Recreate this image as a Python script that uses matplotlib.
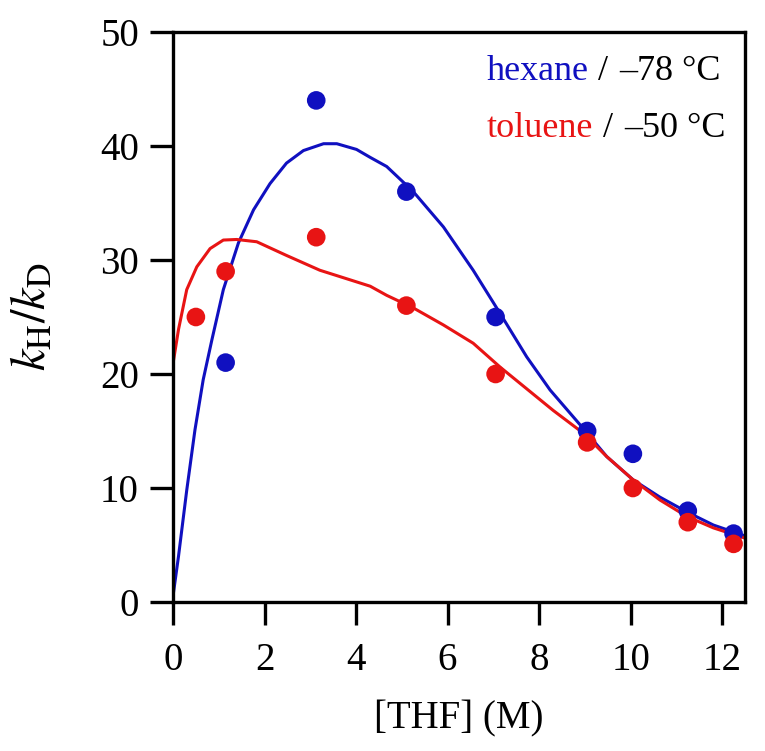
import numpy as np
import matplotlib
matplotlib.use("Agg")
import matplotlib.pyplot as plt

# measured points
hex_x = [1.15, 3.13, 5.1, 7.05, 9.05, 10.05, 11.25, 12.25]
hex_y = [21.0, 44.0, 36.0, 25.0, 15.0, 13.0, 8.0, 6.0]
tol_x = [0.5, 1.15, 3.13, 5.1, 7.05, 9.05, 10.05, 11.25, 12.25]
tol_y = [25.0, 29.0, 32.0, 26.0, 20.0, 14.0, 10.0, 7.0, 5.1]

# fitted curves
hex_fit_x = [0.0, 0.01, 0.12, 0.30, 0.48, 0.66, 0.85, 1.10, 1.43, 1.76, 2.12, 2.48,
             2.85, 3.29, 3.58, 4.01, 4.31, 4.67, 5.25, 5.91, 6.56, 7.15, 7.73, 8.24,
             8.97, 9.48, 10.06, 10.64, 11.23, 11.81, 12.5]
hex_fit_y = [0.0, 0.8, 4.0, 9.8, 15.1, 19.5, 23.0, 27.4, 31.5, 34.4, 36.7, 38.5,
             39.6, 40.2, 40.2, 39.7, 39.0, 38.2, 36.0, 32.9, 29.1, 25.3, 21.5, 18.6,
             15.2, 12.75, 10.7, 9.2, 7.9, 6.75, 5.8]
tol_fit_x = [0.0, 0.12, 0.30, 0.52, 0.81, 1.10, 1.39, 1.83, 2.48, 3.21, 4.31, 4.67,
             5.25, 5.91, 6.56, 7.15, 7.73, 8.31, 8.97, 9.48, 10.06, 10.64, 11.23,
             11.81, 12.5]
tol_fit_y = [20.9, 23.9, 27.4, 29.4, 31.0, 31.75, 31.8, 31.6, 30.4, 29.1, 27.7, 26.9,
             25.8, 24.3, 22.7, 20.6, 18.7, 16.8, 14.8, 12.75, 10.7, 8.95, 7.5,
             6.5, 5.6]

blue = "#1010c0"
red = "#e81414"

plt.rcParams["font.family"] = ["Liberation Serif", "DejaVu Serif"]
plt.rcParams["mathtext.fontset"] = "stix"

fig = plt.figure(figsize=(7.65, 7.51), dpi=100)
ax = fig.add_axes([173 / 765, 1 - 602 / 751, (745 - 173) / 765, (602 - 32) / 751])

ax.plot(hex_fit_x, hex_fit_y, color=blue, lw=2.2, zorder=2, solid_joinstyle="round")
ax.plot(tol_fit_x, tol_fit_y, color=red, lw=2.2, zorder=2, solid_joinstyle="round")
ax.scatter(hex_x, hex_y, s=180, color=blue, edgecolors="none", zorder=3)
ax.scatter(tol_x, tol_y, s=180, color=red, edgecolors="none", zorder=3)

ax.set_xlim(0, 12.5)
ax.set_ylim(0, 50)
ax.set_xticks([0, 2, 4, 6, 8, 10, 12])
ax.set_yticks([0, 10, 20, 30, 40, 50])
for s in ax.spines.values():
    s.set_linewidth(2.4)
ax.tick_params(direction="out", length=16.5, width=2.4, labelsize=28)
ax.tick_params(axis="x", pad=12)
ax.tick_params(axis="y", pad=8)

ax.set_xlabel("[THF] (M)", fontsize=28, labelpad=16)
ax.set_ylabel(r"$k_{\mathrm{H}}/k_{\mathrm{D}}$", fontsize=35, labelpad=32)

# legend made of coloured words
W, H = 765, 751
fig.text(487 / W, 1 - 80 / H, "hexane", color=blue, fontsize=26)
fig.text(598 / W, 1 - 80 / H, "/", color="black", fontsize=26)
fig.text(619 / W, 1 - 80 / H, "\u201378 \u00b0C", color="black", fontsize=26)
fig.text(487 / W, 1 - 137 / H, "toluene", color=red, fontsize=26)
fig.text(603 / W, 1 - 137 / H, "/", color="black", fontsize=26)
fig.text(624 / W, 1 - 137 / H, "\u201350 \u00b0C", color="black", fontsize=26)

fig.savefig("out.png", dpi=100)
